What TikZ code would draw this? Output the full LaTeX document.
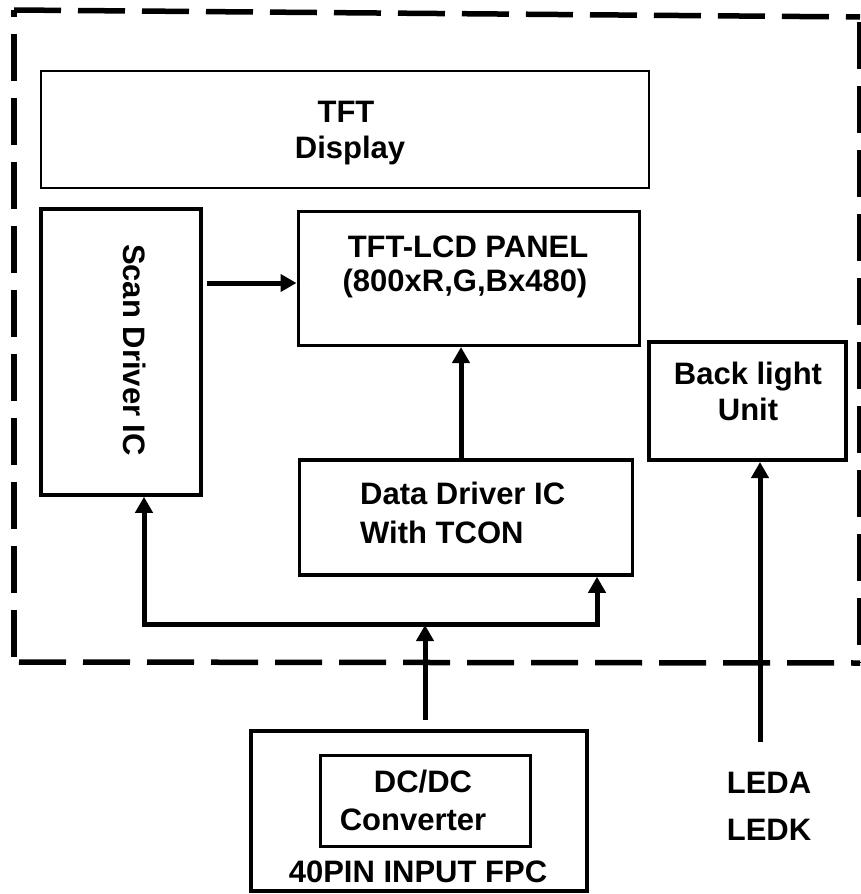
\documentclass[tikz,border=0pt]{standalone}
\usepackage{fontspec}
\setmainfont{Liberation Sans}
\usetikzlibrary{arrows.meta}
\begin{document}
\begin{tikzpicture}[x=1pt,y=-1pt,
  box/.style={draw, line width=3.5pt, inner sep=0pt},
  lbl/.style={font=\bfseries\fontsize{31}{35}\selectfont, inner sep=0pt},
  arr/.style={line width=5pt, -{Triangle[length=16pt,width=17pt]}},
  bus/.style={line width=5pt, line join=miter, {Triangle[length=16pt,width=17pt]}-{Triangle[length=16pt,width=17pt]}},
  frame/.style={line width=5.5pt, dash pattern=on 47pt off 17pt}]
\useasboundingbox (0,0) rectangle (860,894);
% dashed frame
\draw[frame] (14,10) -- (860,17);
\draw[frame, dash phase=40pt] (14,10) -- (14,662);
\draw[frame, dash phase=59pt] (14,662) -- (860,663);
\draw[frame, dash phase=59pt] (860,17) -- (860,663);
% boxes
\node[box, line width=1.5pt, minimum width=608pt, minimum height=117pt] (disp) at (345,129.5) {};
\node[box, minimum width=160pt, minimum height=286pt] (scan) at (121,352) {};
\node[box, line width=3pt, minimum width=341pt, minimum height=134pt] (panel) at (468.5,278.5) {};
\node[box, line width=4pt, minimum width=197pt, minimum height=118pt] (back) at (747.5,401) {};
\node[box, minimum width=333pt, minimum height=115pt] (data) at (466,517.5) {};
\node[box, line width=4pt, minimum width=336pt, minimum height=160pt] (fpc) at (419,811) {};
\node[box, line width=3pt, minimum width=210pt, minimum height=91pt] (dcdc) at (425,800.5) {};
% texts
\node[lbl, anchor=base] (t1) at (346,122) {TFT};
\node[lbl, anchor=base] (t2) at (350,158) {Display};
\node[lbl, rotate=-90] (t3) at (135,350) {Scan Driver IC};
\node[lbl, anchor=base] (t4) at (468,257) {TFT-LCD PANEL};
\node[lbl, anchor=base] (t5) at (465,291) {(800xR,G,Bx480)};
\node[lbl, anchor=base] (t6) at (748,384) {Back light};
\node[lbl, anchor=base] (t7) at (748,420) {Unit};
\node[lbl, anchor=base west] (t8) at (360,504) {Data Driver IC};
\node[lbl, anchor=base west] (t9) at (360,543) {With TCON};
\node[lbl, anchor=base] (t10) at (423,792) {DC/DC};
\node[lbl, anchor=base] (t11) at (413,830) {Converter};
\node[lbl, anchor=base] (t12) at (418,882) {40PIN INPUT FPC};
\node[lbl, anchor=base] (t13) at (769,793) {LEDA};
\node[lbl, anchor=base] (t14) at (769,840) {LEDK};
% connectors
\coordinate (sp) at (0,283);
\coordinate (scanr) at ([xshift=4pt]scan.east);
\draw[arr] (scanr |- sp) -- (panel.west |- sp);
\coordinate (dp) at (461,0);
\draw[arr] (data.north -| dp) -- (panel.south -| dp);
\coordinate (bl) at (144,624);
\coordinate (br) at (597,624);
\coordinate (bc) at (425,624);
\draw[bus] (scan.south -| bl) -- (bl) -- (br) -- (data.south -| br);
\coordinate (fpctop) at ([yshift=9pt]fpc.north);
\draw[arr] (fpctop -| bc) -- ([yshift=-1pt]bc);
\coordinate (ledend) at (760,742);
\draw[arr] (ledend) -- (back.south -| ledend);
\end{tikzpicture}
\end{document}
